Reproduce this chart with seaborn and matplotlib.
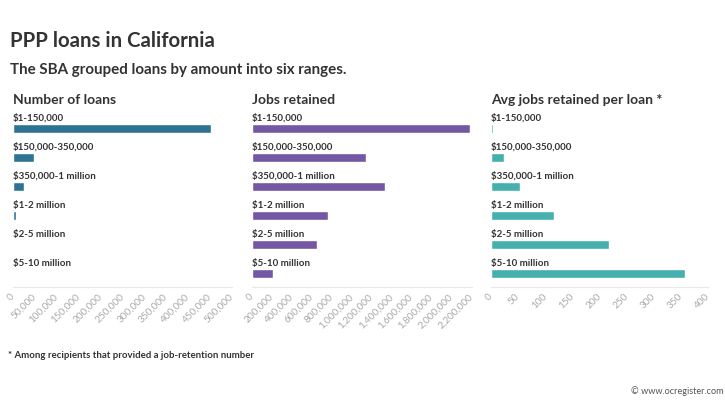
import matplotlib
matplotlib.use("Agg")
import matplotlib.pyplot as plt
import matplotlib.ticker as mticker
import seaborn as sns
import pandas as pd

sns.set_theme(style="white")
plt.rcParams['font.family'] = ['Lato', 'DejaVu Sans']

categories = ["$1-150,000", "$150,000-350,000", "$350,000-1 million",
              "$1-2 million", "$2-5 million", "$5-10 million"]
num_loans = [452000, 48000, 26000, 6000, 3000, 500]
jobs_retained = [2180000, 1143000, 1336000, 762000, 655000, 207000]
avg_jobs = [4, 24.5, 54, 117, 218, 358]

panel_titles = ["Number of loans", "Jobs retained", "Avg jobs retained per loan *"]
ticks_loans = [0, 50000, 100000, 150000, 200000, 250000, 300000, 350000, 400000, 450000, 500000]
ticks_jobs = [0, 200000, 400000, 600000, 800000, 1000000, 1200000, 1400000, 1600000, 1800000, 2000000, 2200000]
ticks_avg = [0, 50, 100, 150, 200, 250, 300, 350, 400]
colors = ["#2f7394", "#7458a3", "#45b0ae"]

W, H = 725, 407
fig = plt.figure(figsize=(W / 100, H / 100), dpi=100)
fig.patch.set_facecolor("white")

fig.text(10 / W, 1 - 41 / H, "PPP loans in California", fontsize=14.7,
         fontweight="bold", color="#333333", va="center", ha="left")
fig.text(10 / W, 1 - 70 / H, "The SBA grouped loans by amount into six ranges.",
         fontsize=10.9, fontweight="bold", color="#333333", va="center", ha="left")

panels = [
    (13, 219, num_loans, ticks_loans, 500000),
    (252, 219.5, jobs_retained, ticks_jobs, 2200000),
    (491, 217, avg_jobs, ticks_avg, 400),
]

top, bottom = 113, 287
for i, (left, width, vals, ticks, xmax) in enumerate(panels):
    ax = fig.add_axes([left / W, 1 - bottom / H, width / W, (bottom - top) / H])
    df = pd.DataFrame({"cat": categories, "val": vals})
    sns.barplot(data=df, x="val", y="cat", orient="h", color=colors[i],
                width=0.31, ax=ax, saturation=1)
    ax.set_xlim(0, xmax)
    ax.set_ylim(5.455, -0.545)
    ax.set_xticks(ticks)
    ax.xaxis.set_major_formatter(mticker.FuncFormatter(lambda v, p: f"{int(v):,}"))
    ax.set_yticks([])
    ax.set_xlabel("")
    ax.set_ylabel("")
    for lbl in ax.get_xticklabels():
        lbl.set_rotation(45)
        lbl.set_ha("right")
        lbl.set_rotation_mode("anchor")
        lbl.set_va("center")
        lbl.set_fontsize(7.2)
        lbl.set_color("#aaaaaa")
    ax.tick_params(axis="x", length=0, pad=6)
    for s in ["top", "right", "left"]:
        ax.spines[s].set_visible(False)
    ax.spines["bottom"].set_color("#e8e8e8")
    ax.spines["bottom"].set_linewidth(0.8)
    ax.set_facecolor("white")
    for j, c in enumerate(categories):
        ax.text(0, j - 0.37, c, transform=ax.get_yaxis_transform(),
                fontsize=7.0, fontweight="bold", color="#333333",
                ha="left", va="center")
    fig.text(left / W, 1 - 100 / H, panel_titles[i], fontsize=10,
             fontweight="bold", color="#333333", ha="left", va="center")

fig.text(8 / W, 1 - 355 / H, "* Among recipients that provided a job-retention number",
         fontsize=6.9, fontweight="bold", color="#333333", ha="left", va="center")
fig.text(724 / W, 1 - 391 / H, "\u00a9 www.ocregister.com", fontsize=6.6,
         color="#555555", ha="right", va="center")

fig.savefig("out.png", dpi=100, facecolor="white")
